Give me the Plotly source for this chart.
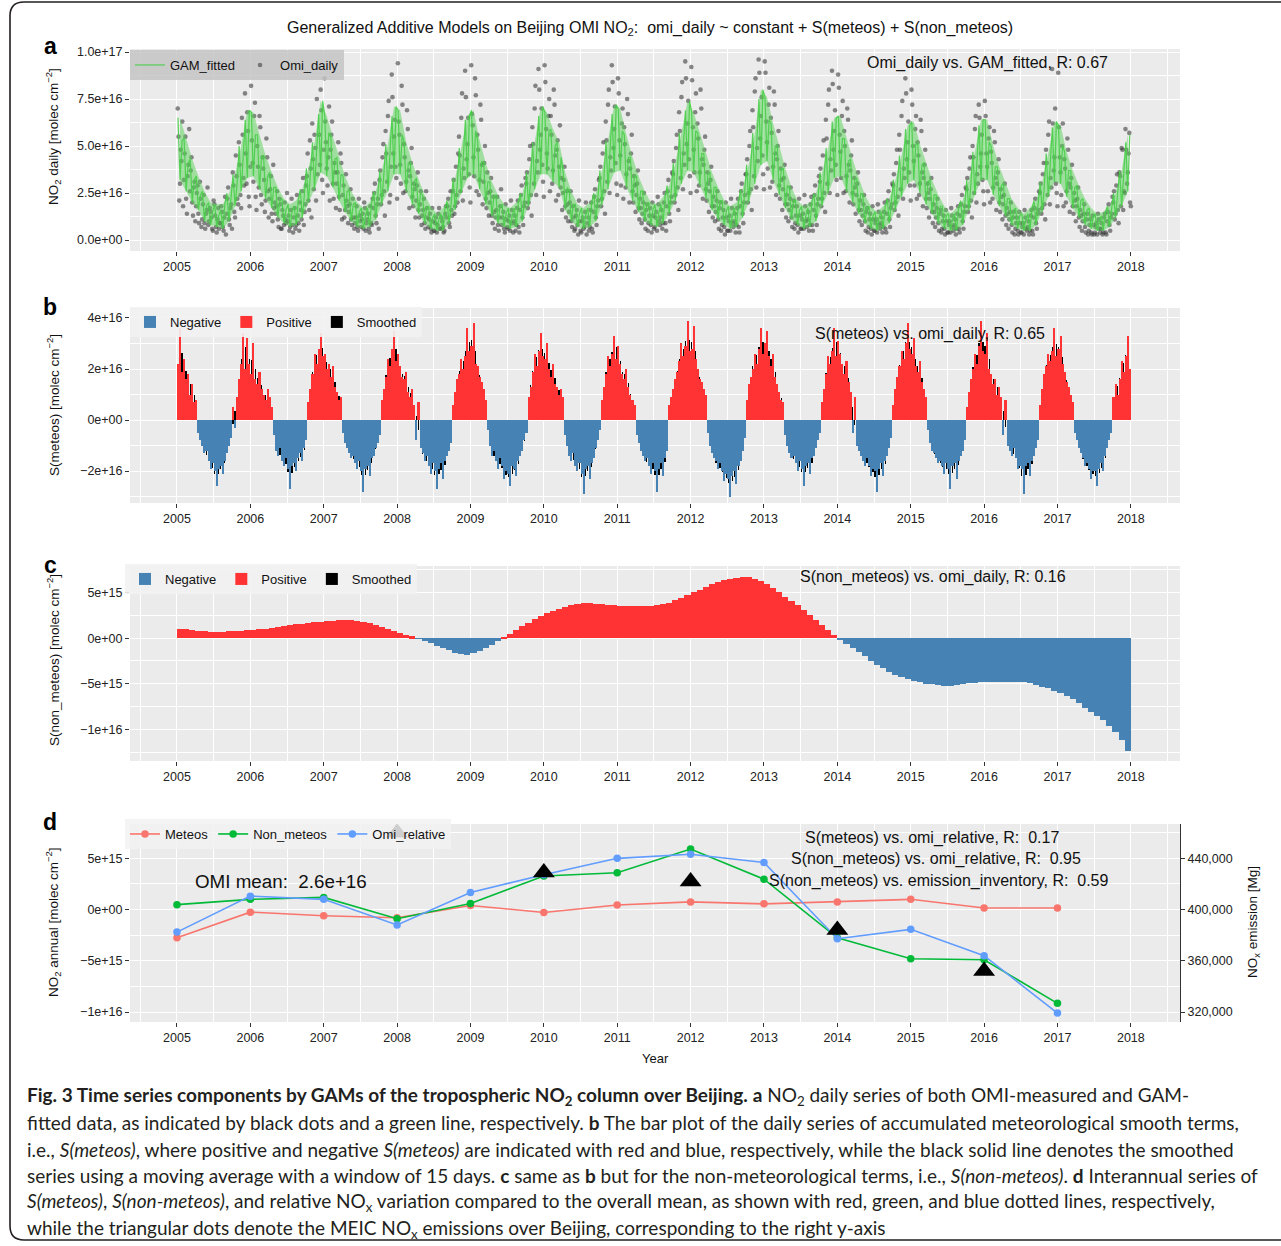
import numpy as np
import plotly.graph_objects as go

W, H = 1281, 1246
YEARS = list(range(2005, 2018))

# ---------------- Panel a : GAM fitted (3 readings / month, 1e16 molec cm-2)
gam_2005 = [6.5,3.2,5.3, 5.4,2.6,4.1, 4.3,2.0,3.2, 3.4,1.6,2.4, 2.6,1.0,1.8, 2.0,0.8,1.5, 1.9,0.7,1.3, 1.6,0.6,1.9, 2.5,1.0,2.2, 3.5,1.8,3.0, 5.0,2.6,4.4, 6.4,3.3,6.9]
gam_2006 = [6.8,3.4,5.6, 5.6,2.7,4.4, 4.5,2.2,3.4, 3.6,1.7,2.8, 2.8,1.2,2.1, 2.2,0.9,1.6, 1.9,0.7,1.5, 1.8,0.8,2.1, 2.7,1.2,2.4, 3.8,2.0,3.4, 5.2,2.7,4.8, 6.7,3.6,7.4]
gam_2007 = [6.6,3.4,5.7, 5.5,2.8,4.3, 4.4,2.1,3.5, 3.4,1.5,2.6, 2.6,1.0,1.9, 2.0,0.7,1.5, 1.7,0.6,1.3, 1.7,0.7,2.0, 2.6,1.1,2.3, 3.7,1.9,3.3, 5.1,2.6,4.6, 6.6,3.5,7.1]
gam_2008 = [6.9,3.5,5.6, 5.2,2.6,4.1, 4.1,1.9,3.1, 3.3,1.4,2.5, 2.4,0.9,1.7, 1.8,0.6,1.2, 1.4,0.5,1.1, 1.4,0.5,1.7, 2.1,0.9,1.9, 3.3,1.6,2.9, 4.9,2.5,4.4, 6.4,3.3,6.6]
gam_2009 = [6.9,3.5,5.8, 5.3,2.7,4.2, 4.1,1.9,3.1, 3.1,1.3,2.3, 2.4,0.9,1.8, 1.9,0.7,1.4, 1.7,0.6,1.3, 1.7,0.7,2.0, 2.5,1.0,2.2, 3.6,1.8,3.2, 5.2,2.7,4.7, 6.6,3.5,7.1]
gam_2010 = [6.8,3.5,5.8, 5.9,3.1,5.0, 5.2,2.8,4.4, 3.6,1.6,2.8, 2.6,1.0,1.9, 1.9,0.7,1.4, 1.7,0.6,1.3, 1.7,0.7,2.0, 2.5,1.0,2.2, 3.7,1.9,3.3, 5.3,2.7,4.8, 6.7,3.6,7.2]
gam_2011 = [7.0,3.7,5.8, 5.6,2.8,4.4, 4.4,2.1,3.4, 3.4,1.5,2.6, 2.6,1.0,1.9, 2.0,0.8,1.6, 1.9,0.7,1.5, 1.9,0.9,2.3, 2.9,1.4,2.6, 4.1,2.1,3.6, 5.7,3.0,5.1, 6.9,3.7,7.4]
gam_2012 = [6.8,3.6,5.8, 5.7,2.9,4.6, 4.6,2.2,3.5, 3.6,1.6,2.8, 2.8,1.1,2.1, 2.1,0.8,1.5, 1.8,0.6,1.3, 1.7,0.7,2.0, 2.7,1.2,2.5, 4.0,2.0,3.6, 5.7,3.0,5.2, 7.5,4.0,8.0]
gam_2013 = [7.6,4.2,6.4, 6.2,3.2,5.0, 5.0,2.4,3.8, 3.8,1.7,2.9, 2.8,1.1,2.1, 2.1,0.8,1.6, 1.8,0.6,1.3, 1.7,0.7,2.0, 2.5,1.0,2.2, 3.6,1.8,3.2, 4.9,2.5,4.4, 6.3,3.3,6.5]
gam_2014 = [6.6,3.4,5.4, 5.4,2.6,4.2, 4.3,2.0,3.2, 3.3,1.4,2.5, 2.4,0.9,1.7, 1.8,0.6,1.3, 1.5,0.5,1.2, 1.5,0.6,1.8, 2.2,0.9,2.0, 3.2,1.6,2.9, 4.5,2.3,4.0, 5.9,3.0,6.1]
gam_2015 = [6.3,3.2,5.1, 5.1,2.5,4.0, 4.1,1.9,3.1, 3.2,1.4,2.4, 2.4,0.9,1.8, 1.8,0.6,1.3, 1.4,0.5,1.1, 1.4,0.5,1.7, 2.1,0.8,1.9, 3.2,1.6,2.9, 4.7,2.4,4.2, 6.1,3.2,6.4]
gam_2016 = [6.4,3.2,5.2, 5.0,2.4,3.9, 3.9,1.8,2.9, 3.0,1.3,2.2, 2.2,0.8,1.6, 1.7,0.6,1.3, 1.4,0.5,1.1, 1.4,0.5,1.7, 2.1,0.8,1.9, 3.1,1.5,2.8, 4.6,2.3,4.1, 6.0,3.1,6.3]
gam_2017 = [6.1,3.0,5.0, 4.7,2.3,3.7, 3.7,1.7,2.8, 2.9,1.2,2.1, 2.2,0.8,1.6, 1.7,0.6,1.2, 1.4,0.5,1.0, 1.3,0.5,1.5, 1.8,0.7,1.6, 2.5,1.2,2.3, 3.7,1.8,3.4, 5.2,2.6,5.6]

# ---------------- Panel a : OMI daily samples (two sets of 4 readings / month, 1e16)
omi_2005 = [7.0,2.1,4.8,6.3, 3.2,5.5,1.4,4.0, 2.6,4.4,1.3,3.1, 1.8,2.9,0.9,2.2, 1.1,2.4,0.6,1.6, 0.8,1.7,1.2,0.5, 1.9,0.7,1.1,0.6, 0.9,1.5,0.5,2.3, 1.4,2.8,0.8,1.9, 3.6,1.5,4.5,2.2, 5.2,2.4,6.5,3.3, 7.8,3.0,5.8,1.8]
omi_2006 = [8.2,4.1,6.6,2.3, 5.0,2.8,6.0,1.9, 3.8,1.5,5.4,2.6, 2.2,3.4,1.0,1.7, 1.4,2.6,0.7,1.9, 0.6,1.3,2.0,0.9, 1.0,0.5,1.6,0.8, 1.2,0.6,2.4,0.9, 2.0,1.1,3.3,1.5, 2.9,4.6,1.6,3.8, 6.2,2.7,4.9,7.5, 9.2,4.0,6.9,2.5]
omi_2007 = [8.6,5.2,2.9,7.1, 4.8,6.3,2.2,3.6, 3.0,5.2,1.6,4.1, 2.4,1.2,3.5,1.8, 1.5,2.7,0.8,1.2, 0.9,1.8,0.5,1.3, 0.7,1.4,2.0,0.5, 1.1,0.6,1.8,0.8, 1.7,3.0,0.9,2.2, 3.2,1.9,4.4,2.6, 5.8,3.1,7.4,2.4, 8.8,4.6,6.4,3.3]
omi_2008 = [9.4,5.6,3.0,7.2, 5.1,2.6,6.9,3.7, 3.4,4.9,1.8,2.7, 2.1,3.6,1.2,2.6, 1.3,2.2,0.6,1.7, 0.7,1.4,0.4,1.0, 0.5,1.2,0.8,1.7, 0.6,1.0,0.4,1.4, 1.2,2.2,0.7,1.6, 2.6,1.4,3.9,2.0, 5.5,2.6,7.8,3.8, 9.0,4.3,6.5,2.8]
omi_2009 = [9.3,6.1,3.4,7.7, 5.6,2.4,7.2,4.0, 3.1,5.0,1.7,2.5, 2.0,3.3,0.9,1.5, 1.2,2.3,0.5,1.8, 0.8,1.5,0.4,1.1, 0.6,1.3,2.1,0.9, 1.0,0.5,1.7,0.7, 1.6,2.9,0.8,2.0, 3.0,1.7,4.3,2.4, 6.0,3.0,8.2,4.2, 9.1,4.8,7.0,3.1]
omi_2010 = [9.3,5.9,3.8,7.5, 6.6,3.0,8.0,4.5, 4.8,2.4,6.1,3.3, 2.5,3.9,1.2,1.9, 1.5,2.6,0.7,1.2, 0.6,1.6,0.3,1.0, 0.4,1.2,0.7,2.0, 0.9,0.5,1.6,0.6, 1.5,2.7,0.8,2.1, 3.3,1.8,4.6,2.6, 6.3,3.1,8.0,4.4, 9.3,4.9,7.1,3.0]
omi_2011 = [8.6,5.3,2.9,7.0, 6.0,2.8,7.5,4.2, 3.8,5.6,2.0,2.9, 2.4,3.7,1.1,1.7, 1.4,2.5,0.6,1.9, 0.9,1.7,0.4,1.3, 0.7,1.5,2.3,1.0, 1.2,0.6,2.0,0.9, 1.8,3.2,1.0,2.3, 3.5,2.0,4.9,2.8, 6.8,3.3,8.4,4.6, 9.5,5.1,7.4,3.4]
omi_2012 = [9.2,6.0,3.6,7.8, 6.2,2.9,8.0,4.3, 4.0,5.5,2.1,3.0, 2.6,3.9,1.2,1.8, 1.5,2.6,0.6,2.0, 0.8,1.6,0.3,1.2, 0.5,1.3,2.2,0.9, 1.0,0.4,1.7,0.7, 1.8,3.0,0.9,2.4, 3.5,2.0,5.0,2.7, 6.9,3.4,8.6,4.9, 9.6,5.4,7.6,3.5]
omi_2013 = [9.5,6.3,3.8,8.1, 6.5,3.1,7.9,4.6, 4.3,5.8,2.2,3.2, 2.7,4.0,1.2,1.9, 1.6,2.8,0.7,2.1, 0.9,1.8,0.4,1.3, 0.6,1.4,2.4,1.0, 1.1,0.5,1.9,0.8, 1.6,2.9,0.8,2.2, 3.1,1.8,4.5,2.5, 6.4,3.0,8.0,4.3, 9.0,4.8,6.9,3.2]
omi_2014 = [8.8,5.6,3.3,7.4, 5.8,2.6,7.0,4.0, 3.7,5.3,1.9,2.8, 2.4,3.6,1.0,1.6, 1.3,2.4,0.5,1.7, 0.7,1.4,0.3,1.1, 0.5,1.1,1.9,0.8, 0.9,0.4,1.5,0.6, 1.4,2.6,0.7,1.9, 2.9,1.6,4.1,2.3, 5.6,2.7,7.4,3.8, 8.6,4.3,6.3,2.9]
omi_2015 = [8.0,5.0,2.9,6.6, 5.2,2.4,6.4,3.6, 3.3,4.8,1.7,2.5, 2.2,3.3,0.9,1.5, 1.2,2.2,0.5,1.6, 0.6,1.3,0.3,1.0, 0.4,1.0,1.7,0.7, 0.8,0.3,1.4,0.6, 1.3,2.4,0.6,1.8, 2.7,1.5,3.8,2.1, 5.0,2.5,6.6,3.5, 7.2,3.9,5.6,2.6]
omi_2016 = [7.4,4.6,2.6,6.0, 4.7,2.2,5.8,3.3, 3.0,4.3,1.5,2.3, 1.9,3.0,0.8,1.4, 1.1,2.0,0.4,1.5, 0.6,1.2,0.3,0.9, 0.4,0.9,1.6,0.6, 0.7,0.3,1.3,0.5, 1.2,2.2,0.6,1.6, 2.5,1.4,3.5,1.9, 4.8,2.4,6.3,3.3, 9.1,3.7,7.0,2.5]
omi_2017 = [8.9,4.4,2.4,6.2, 4.3,2.0,5.4,3.0, 2.8,4.0,1.4,2.1, 1.8,2.8,0.7,1.3, 1.0,1.9,0.4,1.4, 0.5,1.1,0.3,0.8, 0.4,0.9,1.4,0.6, 0.6,0.3,1.2,0.4, 1.0,1.9,0.5,1.4, 2.0,1.1,2.9,1.6, 3.6,1.8,4.8,2.6, 5.9,3.0,4.6,2.0]

omi2_2005 = [5.5,3.0,4.2,1.8, 4.6,2.2,3.4,5.9, 3.7,2.0,2.8,1.0, 2.5,1.4,3.1,0.7, 1.9,0.9,1.4,2.8, 1.0,1.5,0.6,2.1, 1.3,0.4,1.7,0.9, 1.8,0.7,1.2,0.3, 2.2,1.1,1.7,0.6, 2.9,1.2,3.4,1.9, 4.0,1.7,5.6,2.9, 4.6,6.8,2.3,3.9]
omi2_2006 = [5.3,3.1,7.3,1.6, 3.9,6.6,2.4,4.4, 3.2,2.1,4.4,1.2, 2.7,1.4,4.0,2.0, 1.8,1.1,2.2,0.6, 1.6,0.8,1.1,2.5, 1.3,0.7,2.2,0.4, 1.7,0.8,1.3,0.5, 1.6,2.6,0.8,1.9, 3.4,2.1,5.3,1.2, 4.3,5.6,2.1,3.5, 5.6,8.0,3.2,4.8]
omi2_2007 = [6.3,3.8,4.4,2.1, 5.6,3.0,4.1,1.7, 3.6,2.3,4.6,1.1, 2.9,1.6,2.1,0.9, 1.9,1.1,2.2,0.6, 1.2,0.7,2.2,1.0, 1.1,0.6,1.7,0.9, 1.4,0.4,0.9,2.2, 2.5,1.3,1.9,0.6, 3.7,2.4,5.1,1.3, 4.6,6.6,2.0,3.9, 7.6,5.5,3.9,2.2]
omi2_2008 = [6.3,4.0,8.2,2.5, 4.4,3.1,5.9,1.7, 4.1,2.3,3.0,1.2, 2.9,1.6,1.9,0.8, 1.6,0.9,2.6,1.2, 1.1,0.6,1.7,0.5, 0.9,0.4,1.4,0.6, 1.2,0.7,0.5,1.8, 1.8,0.9,2.6,1.3, 3.2,1.8,2.4,4.6, 4.5,6.5,2.1,3.3, 7.6,5.1,3.5,2.0]
omi2_2009 = [6.7,4.4,8.6,2.6, 4.8,3.2,6.4,1.9, 4.1,2.2,3.6,1.3, 2.6,1.3,2.3,0.6, 1.6,0.8,1.2,2.7, 1.2,0.6,1.9,0.7, 1.0,0.5,1.6,0.4, 1.3,0.8,2.1,0.4, 2.4,1.2,1.8,3.3, 3.6,2.0,5.0,1.3, 5.1,7.0,2.4,3.6, 8.0,5.6,4.0,2.3]
omi2_2010 = [8.4,4.6,6.6,2.6, 5.6,3.7,7.2,2.1, 5.3,3.9,2.8,1.6, 3.2,1.8,2.6,1.0, 2.0,1.0,1.8,0.5, 1.3,0.8,2.1,0.5, 1.0,0.6,1.5,0.3, 1.2,0.7,2.0,0.4, 2.3,1.2,1.8,3.2, 3.9,2.2,5.2,1.4, 5.3,7.2,2.5,3.7, 8.4,5.9,4.1,2.4]
omi2_2011 = [7.8,4.5,6.2,2.2, 5.1,3.5,6.7,2.0, 4.6,2.6,3.4,1.5, 3.0,1.7,2.2,0.9, 2.0,1.1,1.6,0.5, 1.3,0.8,2.0,0.6, 1.2,0.5,1.9,0.8, 1.6,0.9,2.5,0.5, 2.6,1.4,2.0,3.6, 4.2,2.4,5.6,1.6, 5.8,7.6,2.7,4.0, 8.6,6.2,4.3,2.5]
omi2_2012 = [8.5,4.8,6.8,2.6, 5.4,3.6,7.0,2.2, 4.8,2.7,3.6,1.5, 3.2,1.8,2.3,1.0, 2.1,1.1,1.7,0.5, 1.2,0.7,2.0,0.5, 1.0,0.5,1.7,0.7, 1.4,0.8,2.2,0.4, 2.6,1.4,2.0,3.5, 4.3,2.5,5.8,1.6, 6.0,7.9,2.8,4.2, 8.9,6.6,4.5,2.7]
omi2_2013 = [8.9,5.2,7.2,2.8, 5.7,3.9,7.2,2.4, 5.0,2.9,3.8,1.6, 3.3,1.9,2.4,1.0, 2.2,1.2,1.8,0.6, 1.3,0.8,2.2,0.6, 1.1,0.6,1.8,0.7, 1.5,0.8,2.3,0.5, 2.4,1.3,1.9,3.4, 3.8,2.2,5.3,1.5, 5.4,7.2,2.5,3.7, 8.3,5.8,4.0,2.4]
omi2_2014 = [8.1,4.7,6.6,2.5, 5.0,3.4,6.4,2.0, 4.5,2.5,3.3,1.4, 3.0,1.6,2.1,0.8, 1.9,1.0,1.5,0.4, 1.1,0.6,1.8,0.5, 0.9,0.4,1.5,0.6, 1.2,0.7,2.0,0.4, 2.1,1.1,1.7,3.0, 3.5,2.0,4.8,1.3, 4.8,6.6,2.2,3.3, 7.8,5.2,3.6,2.1]
omi2_2015 = [7.2,4.2,5.9,2.2, 4.5,3.0,5.8,1.8, 4.0,2.2,3.0,1.2, 2.7,1.5,1.9,0.7, 1.7,0.9,1.4,0.4, 1.0,0.6,1.6,0.4, 0.8,0.4,1.3,0.5, 1.1,0.6,1.8,0.4, 1.9,1.0,1.5,2.8, 3.3,1.8,4.4,1.2, 4.4,5.9,2.0,3.0, 6.5,4.6,3.2,1.9]
omi2_2016 = [6.6,3.9,5.4,2.0, 4.1,2.8,5.2,1.6, 3.6,2.0,2.7,1.1, 2.4,1.3,1.7,0.6, 1.5,0.8,1.2,0.3, 0.9,0.5,1.5,0.4, 0.7,0.3,1.2,0.5, 1.0,0.5,1.6,0.3, 1.7,0.9,1.4,2.6, 3.0,1.7,4.1,1.1, 4.1,5.6,1.9,2.8, 6.2,4.4,3.0,1.8]
omi2_2017 = [6.0,3.6,5.0,1.8, 3.8,2.6,4.8,1.5, 3.3,1.8,2.5,1.0, 2.2,1.2,1.6,0.5, 1.4,0.7,1.1,0.3, 0.8,0.4,1.3,0.3, 0.7,0.3,1.1,0.4, 0.9,0.4,1.4,0.3, 1.5,0.8,1.2,2.3, 2.6,1.4,3.5,0.9, 3.4,4.9,1.6,2.5, 4.8,3.6,5.7,1.8]

# ---------------- Panel b : S(meteos) (3 readings / month, 1e16)
met_2005 = [2.2,3.6,1.9, 2.4,1.6,1.8, 1.0,1.4,0.7, 0.8,-0.5,-0.8, -1.0,-1.3,-1.2, -1.6,-1.9,-1.7, -2.0,-2.6,-1.9, -1.8,-2.1,-1.6, -1.3,-1.0,-0.7, 0.5,-0.3,0.9, 1.6,2.2,3.4, 2.0,3.2,2.2]
met_2006 = [1.8,3.0,1.6, 1.4,1.9,1.2, 1.0,0.8,1.2, 0.9,0.5,-0.6, -1.2,-1.4,-1.1, -1.6,-1.8,-1.5, -1.9,-2.7,-1.8, -1.7,-2.0,-1.5, -1.3,-1.6,-1.1, -0.8,0.7,1.2, 1.8,2.6,2.2, 2.8,3.4,2.5]
met_2007 = [2.6,2.0,2.2, 1.7,2.1,1.3, 1.1,0.8,0.9, -0.5,-0.9,-1.1, -1.3,-1.5,-1.4, -1.7,-1.9,-1.6, -2.0,-2.8,-1.9, -1.8,-2.2,-1.5, -1.4,-1.1,-0.9, -0.6,0.8,1.2, 1.7,2.4,2.1, 2.8,3.5,2.3]
met_2008 = [2.6,2.1,1.7, 1.6,1.9,1.1, 0.9,1.2,0.6, -0.8,0.7,-1.1, -1.3,-1.6,-1.4, -1.8,-2.1,-1.7, -2.0,-2.7,-1.9, -1.7,-2.3,-1.6, -1.4,-1.2,-0.9, 0.6,1.1,1.6, 1.8,2.4,2.0, 2.5,3.6,2.7]
met_2009 = [2.9,3.8,2.2, 2.1,1.7,1.5, 1.2,0.8,-0.4, -1.0,-1.4,-1.2, -1.6,-1.9,-1.5, -1.8,-2.3,-2.0, -2.1,-2.6,-1.8, -1.9,-2.2,-1.6, -1.4,-1.2,-0.8, -0.5,0.9,1.3, 1.9,2.6,2.1, 2.7,3.4,2.5]
met_2010 = [2.4,3.0,2.0, 1.7,2.2,1.4, 1.3,1.0,1.2, 0.9,-0.6,-1.0, -1.4,-1.6,-1.3, -1.8,-2.0,-1.7, -2.1,-2.9,-1.9, -1.8,-2.3,-1.7, -1.5,-1.1,-0.8, -0.4,0.8,1.3, 1.8,2.5,2.1, 2.6,3.3,2.4]
met_2011 = [2.9,2.2,1.8, 1.6,2.0,1.3, 1.0,0.8,0.6, -0.6,-0.9,-1.2, -1.4,-1.6,-1.5, -1.8,-2.1,-1.7, -2.0,-2.8,-1.9, -1.7,-2.2,-1.5, -1.2,0.6,0.9, 1.2,1.6,1.9, 2.3,3.0,2.5, 2.9,3.9,2.7]
met_2012 = [2.8,3.7,2.4, 2.0,1.6,1.5, 1.2,1.0,-0.5, -1.0,-1.3,-1.5, -1.6,-1.9,-1.7, -2.0,-2.4,-2.1, -2.3,-3.0,-2.2, -2.0,-2.5,-1.8, -1.6,-1.2,-0.7, 0.8,1.4,1.7, 2.0,2.6,2.2, 2.8,3.6,2.6]
met_2013 = [3.0,3.5,2.5, 2.1,2.6,1.7, 1.4,1.1,0.8, 0.7,-0.6,-1.0, -1.3,-1.5,-1.4, -1.7,-2.0,-1.6, -1.9,-2.6,-1.8, -1.7,-2.1,-1.5, -1.4,-1.1,-0.8, -0.5,0.7,1.2, 1.8,2.5,2.2, 2.7,3.6,2.5]
met_2014 = [3.1,2.6,2.2, 1.8,2.3,1.5, 1.1,-0.5,0.9, -1.0,-1.2,-1.4, -1.6,-1.8,-1.5, -1.8,-2.2,-1.9, -2.0,-2.8,-1.9, -1.7,-2.2,-1.6, -1.4,-1.1,-0.7, 0.6,1.2,1.7, 2.1,2.7,2.4, 3.0,3.8,2.8]
met_2015 = [2.6,3.2,2.1, 1.9,2.3,1.5, 1.2,0.9,-0.4, -0.9,-1.2,-1.3, -1.5,-1.7,-1.6, -1.8,-2.1,-1.7, -1.9,-2.7,-1.8, -1.7,-2.3,-1.6, -1.4,-1.2,-0.8, 0.5,1.1,1.6, 2.0,2.6,2.2, 2.9,3.9,2.7]
met_2016 = [2.6,3.4,2.0, 1.8,1.4,1.6, 1.0,1.3,0.9, -0.6,0.8,-1.0, -1.2,-1.4,-1.1, -1.5,-1.9,-1.8, -1.9,-2.9,-1.8, -1.7,-2.2,-1.6, -1.4,-1.1,-0.8, 0.6,1.2,1.8, 2.1,2.6,2.3, 2.7,3.6,2.5]
met_2017 = [2.8,3.3,2.2, 1.9,1.5,1.3, 1.0,0.7,-0.5, -0.8,-1.1,-1.3, -1.5,-1.8,-1.7, -1.9,-2.3,-2.0, -2.0,-2.6,-1.9, -1.7,-2.0,-1.4, -1.1,-0.8,-0.5, 0.9,1.4,1.0, 1.6,2.3,1.9, 2.5,3.3,2.0]

# ---------------- Panel c : S(non_meteos) (monthly, 1e15)
nonmet_2005 = [1.0,0.95,0.85,0.8,0.75,0.7,0.7,0.7,0.75,0.75,0.8,0.85]
nonmet_2006 = [0.9,0.95,1.0,1.1,1.2,1.3,1.4,1.5,1.6,1.7,1.75,1.8]
nonmet_2007 = [1.85,1.9,1.95,1.95,1.95,1.9,1.8,1.65,1.45,1.25,1.0,0.8]
nonmet_2008 = [0.6,0.4,0.2,-0.05,-0.3,-0.55,-0.85,-1.1,-1.35,-1.6,-1.75,-1.8]
nonmet_2009 = [-1.65,-1.4,-1.1,-0.7,-0.3,0.1,0.5,0.9,1.3,1.7,2.05,2.4]
nonmet_2010 = [2.7,2.95,3.2,3.45,3.6,3.75,3.8,3.8,3.75,3.7,3.65,3.6]
nonmet_2011 = [3.55,3.55,3.55,3.55,3.55,3.55,3.6,3.7,3.9,4.15,4.4,4.7]
nonmet_2012 = [5.0,5.3,5.6,5.9,6.15,6.35,6.5,6.6,6.7,6.65,6.5,6.25]
nonmet_2013 = [5.9,5.5,5.05,4.55,4.05,3.6,3.1,2.55,2.0,1.4,0.85,0.3]
nonmet_2014 = [-0.2,-0.65,-1.1,-1.5,-2.0,-2.5,-2.9,-3.3,-3.7,-4.0,-4.25,-4.5]
nonmet_2015 = [-4.7,-4.85,-5.0,-5.05,-5.1,-5.2,-5.2,-5.15,-5.05,-4.95,-4.9,-4.85]
nonmet_2016 = [-4.8,-4.75,-4.75,-4.75,-4.75,-4.8,-4.85,-4.95,-5.1,-5.3,-5.5,-5.75]
nonmet_2017 = [-6.0,-6.3,-6.7,-7.1,-7.6,-8.1,-8.5,-9.0,-9.6,-10.3,-11.2,-12.3]

# ---------------- Panel d : annual series (1e15) and MEIC emissions (Mg)
annual_years = [2005,2006,2007,2008,2009,2010,2011,2012,2013,2014,2015,2016,2017]
meteos_annual     = [-2.75,-0.25,-0.6,-0.8,0.4,-0.28,0.45,0.75,0.56,0.75,1.0,0.16,0.16]
non_meteos_annual = [0.48,1.0,1.19,-0.9,0.6,3.27,3.6,5.9,2.97,-2.75,-4.8,-4.9,-9.15]
omi_rel_annual    = [-2.2,1.31,1.0,-1.5,1.67,3.4,5.0,5.4,4.6,-2.85,-1.93,-4.5,-10.1]
meic_years = [2008,2010,2012,2014,2016]
meic_nox   = [460000,429000,422000,384000,352000]

TICK_YEARS = list(range(2005, 2019))

# ------------------------------------------------------------------ helpers
def px(x):
    return x / W

def py(y):
    return 1 - y / H

def month_times(per_month, shift=0.0):
    t = []
    for yr in YEARS:
        for m in range(12):
            for k in range(per_month):
                t.append(yr + (m + (k + 0.5 + shift) / per_month) / 12.0)
    return np.array(t)

def cat(*arrs):
    return np.concatenate([np.asarray(a, dtype=float) for a in arrs])

gam = cat(gam_2005, gam_2006, gam_2007, gam_2008, gam_2009, gam_2010, gam_2011,
          gam_2012, gam_2013, gam_2014, gam_2015, gam_2016, gam_2017) * 1e16
omi = cat(omi_2005, omi_2006, omi_2007, omi_2008, omi_2009, omi_2010, omi_2011,
          omi_2012, omi_2013, omi_2014, omi_2015, omi_2016, omi_2017) * 1e16
omi2 = cat(omi2_2005, omi2_2006, omi2_2007, omi2_2008, omi2_2009, omi2_2010, omi2_2011,
           omi2_2012, omi2_2013, omi2_2014, omi2_2015, omi2_2016, omi2_2017) * 1e16
met = cat(met_2005, met_2006, met_2007, met_2008, met_2009, met_2010, met_2011,
          met_2012, met_2013, met_2014, met_2015, met_2016, met_2017) * 1e16
nonmet = cat(nonmet_2005, nonmet_2006, nonmet_2007, nonmet_2008, nonmet_2009,
             nonmet_2010, nonmet_2011, nonmet_2012, nonmet_2013, nonmet_2014,
             nonmet_2015, nonmet_2016, nonmet_2017) * 1e15

t_gam = month_times(3)
t_omi = np.concatenate([month_times(4), month_times(4, 0.5)])
omi_all = np.concatenate([omi, omi2])
t_met = month_times(3)
t_non = month_times(1)
met_smooth = np.convolve(met, np.ones(3) / 3.0, mode="same")

# monthly spread of the GAM readings (band under the line)
gam_m = gam.reshape(-1, 3)
t_month = month_times(1)
band_x = np.concatenate([t_month, t_month[::-1]])
band_y = np.concatenate([gam_m.max(axis=1), gam_m.min(axis=1)[::-1]])

RED = "#FF3333"
BLUE = "#4682B4"
GREEN = "rgba(72,206,72,0.9)"
FONT = "Liberation Sans, Arial, Helvetica, sans-serif"

fig = go.Figure()

# ---- panel a
fig.add_trace(go.Scatter(x=t_omi, y=omi_all, mode="markers", name="Omi_daily",
                         marker=dict(size=4.6, color="rgba(60,60,60,0.6)"),
                         xaxis="x", yaxis="y", legend="legend", legendrank=2))
fig.add_trace(go.Scatter(x=band_x, y=band_y, mode="lines", fill="toself",
                         fillcolor="rgba(84,210,84,0.5)", line=dict(width=0),
                         showlegend=False, hoverinfo="skip", xaxis="x", yaxis="y"))
fig.add_trace(go.Scatter(x=t_gam, y=gam, mode="lines", name="GAM_fitted",
                         line=dict(color=GREEN, width=1.2),
                         xaxis="x", yaxis="y", legend="legend", legendrank=1))

# ---- panel b
fig.add_trace(go.Bar(x=t_met, y=met_smooth, width=1 / 250.0, name="Smoothed",
                     marker=dict(color="black", line=dict(width=0)),
                     xaxis="x2", yaxis="y2", legend="legend2", legendrank=3))
fig.add_trace(go.Bar(x=t_met, y=np.where(met < 0, met, np.nan), width=1 / 36.0, name="Negative",
                     marker=dict(color=BLUE, line=dict(width=0)),
                     xaxis="x2", yaxis="y2", legend="legend2", legendrank=1))
fig.add_trace(go.Bar(x=t_met, y=np.where(met > 0, met, np.nan), width=1 / 36.0, name="Positive",
                     marker=dict(color=RED, line=dict(width=0)),
                     xaxis="x2", yaxis="y2", legend="legend2", legendrank=2))

# ---- panel c
fig.add_trace(go.Bar(x=t_non, y=nonmet, width=1 / 40.0, name="Smoothed",
                     marker=dict(color="black", line=dict(width=0)),
                     xaxis="x3", yaxis="y3", legend="legend3", legendrank=3))
fig.add_trace(go.Bar(x=t_non, y=np.where(nonmet < 0, nonmet, np.nan), width=1 / 12.0, name="Negative",
                     marker=dict(color=BLUE, line=dict(width=0)),
                     xaxis="x3", yaxis="y3", legend="legend3", legendrank=1))
fig.add_trace(go.Bar(x=t_non, y=np.where(nonmet > 0, nonmet, np.nan), width=1 / 12.0, name="Positive",
                     marker=dict(color=RED, line=dict(width=0)),
                     xaxis="x3", yaxis="y3", legend="legend3", legendrank=2))

# ---- panel d
for name, vals, col in [("Meteos", meteos_annual, "#F8766D"),
                        ("Non_meteos", non_meteos_annual, "#00BA38"),
                        ("Omi_relative", omi_rel_annual, "#619CFF")]:
    fig.add_trace(go.Scatter(x=annual_years, y=np.array(vals) * 1e15, mode="lines+markers", name=name,
                             line=dict(color=col, width=1.6), marker=dict(color=col, size=7.5),
                             xaxis="x4", yaxis="y4", legend="legend4"))
fig.add_trace(go.Scatter(x=meic_years, y=meic_nox, mode="markers", name="MEIC",
                         marker=dict(symbol="triangle-up", size=19, color="black"),
                         showlegend=False, xaxis="x4", yaxis="y5"))

# ------------------------------------------------------------------ axes
XDOM = [px(130), px(1180)]
tickfont = dict(family=FONT, size=12.5, color="#222")

def xaxis(anchor):
    return dict(domain=XDOM, anchor=anchor, range=[2004.36, 2018.67],
                tickmode="array", tickvals=TICK_YEARS, ticktext=[str(v) for v in TICK_YEARS],
                ticks="outside", ticklen=4, tickwidth=1, tickcolor="#333",
                showgrid=True, gridcolor="white", gridwidth=1.2,
                minor=dict(tickmode="linear", tick0=2004.5, dtick=1, showgrid=True,
                           gridcolor="white", gridwidth=0.5),
                zeroline=False, showline=False, tickfont=tickfont, automargin=False)

def yaxis(anchor, dom, rng, vals, texts, mtick0, mdtick):
    return dict(domain=dom, anchor=anchor, range=rng, tickmode="array", tickvals=vals,
                ticktext=texts, ticks="outside", ticklen=4, tickwidth=1, tickcolor="#333",
                showgrid=True, gridcolor="white", gridwidth=1.2,
                minor=dict(tickmode="linear", tick0=mtick0, dtick=mdtick, showgrid=True,
                           gridcolor="white", gridwidth=0.5),
                zeroline=False, showline=False, tickfont=tickfont, automargin=False)

fig.update_layout(
    xaxis=xaxis("y"), xaxis2=xaxis("y2"), xaxis3=xaxis("y3"), xaxis4=xaxis("y4"),
    yaxis=yaxis("x", [py(251), py(49)], [-0.58e16, 1.016e17],
                [0, 2.5e16, 5e16, 7.5e16, 1e17],
                ["0.0e+00", "2.5e+16", "5.0e+16", "7.5e+16", "1.0e+17"], 1.25e16, 2.5e16),
    yaxis2=yaxis("x2", [py(503), py(308)], [-3.25e16, 4.39e16],
                 [-2e16, 0, 2e16, 4e16], ["\u22122e+16", "0e+00", "2e+16", "4e+16"], 1e16, 2e16),
    yaxis3=yaxis("x3", [py(761), py(566)], [-13.45e15, 7.9e15],
                 [-1e16, -5e15, 0, 5e15], ["\u22121e+16", "\u22125e+15", "0e+00", "5e+15"], 2.5e15, 5e15),
    yaxis4=yaxis("x4", [py(1022), py(824)], [-10.97e15, 8.35e15],
                 [-1e16, -5e15, 0, 5e15], ["\u22121e+16", "\u22125e+15", "0e+00", "5e+15"], 2.5e15, 5e15),
    yaxis5=dict(overlaying="y4", anchor="x4", side="right", range=[312240, 466800],
                tickmode="array", tickvals=[320000, 360000, 400000, 440000],
                ticktext=["320,000", "360,000", "400,000", "440,000"],
                ticks="outside", ticklen=4, tickwidth=1, tickcolor="#333",
                showgrid=False, zeroline=False, showline=True, linecolor="#333", linewidth=1,
                tickfont=tickfont, automargin=False),
)

leg_common = dict(orientation="h", xanchor="left", yanchor="top",
                  font=dict(family=FONT, size=13, color="#111"), borderwidth=0,
                  itemclick=False, itemdoubleclick=False)
fig.update_layout(
    legend=dict(x=px(130), y=py(50), bgcolor="rgba(196,196,196,0.85)", **leg_common),
    legend2=dict(x=px(130), y=py(307), bgcolor="rgba(242,242,242,0.9)", **leg_common),
    legend3=dict(x=px(125), y=py(564), bgcolor="rgba(242,242,242,0.9)", **leg_common),
    legend4=dict(x=px(125), y=py(819), bgcolor="rgba(242,242,242,0.85)", **leg_common),
)

# ------------------------------------------------------------------ texts
ann = []
def text(x, y, s, size=14, **kw):
    d = dict(x=px(x), y=py(y), xref="paper", yref="paper", text=s, showarrow=False,
             font=dict(family=kw.pop("family", FONT), size=size, color=kw.pop("color", "#111")),
             xanchor=kw.pop("xanchor", "center"), yanchor=kw.pop("yanchor", "middle"))
    d.update(kw)
    ann.append(d)

text(650, 28, "Generalized Additive Models on Beijing OMI NO<sub>2</sub>:  omi_daily ~ constant + S(meteos) + S(non_meteos)", 16)
for letter, yy in [("a", 46), ("b", 307), ("c", 565), ("d", 822)]:
    text(50, yy, "<b>" + letter + "</b>", 23, color="black")
text(987, 63, "Omi_daily vs. GAM_fitted, R: 0.67", 16)
text(930, 334, "S(meteos) vs. omi_daily, R: 0.65", 16)
text(933, 577, "S(non_meteos) vs. omi_daily, R: 0.16", 16)
text(932, 838, "S(meteos) vs. omi_relative, R:  0.17", 16)
text(936, 859, "S(non_meteos) vs. omi_relative, R:  0.95", 16)
text(939, 881, "S(non_meteos) vs. emission_inventory, R:  0.59", 16)
text(281, 881, "OMI mean:  2.6e+16", 18.8)
# axis titles
text(53, 137, "NO<sub>2</sub> daily [molec cm<sup>\u22122</sup>]", 13.5, textangle=-90)
text(53, 405, "S(meteos) [molec cm<sup>\u22122</sup>]", 13.5, textangle=-90)
text(53, 660, "S(non_meteos) [molec cm<sup>\u22122</sup>]", 13.5, textangle=-90)
text(53, 922, "NO<sub>2</sub> annual [molec cm<sup>\u22122</sup>]", 13.5, textangle=-90)
text(1253, 922, "NO<sub>x</sub> emission [Mg]", 13.5, textangle=-90)
text(655, 1058, "Year", 13)

# caption
CAP = "Lato, Open Sans, sans-serif"
cap_lines = [
    "<b>Fig. 3 Time series components by GAMs of the tropospheric NO<sub>2</sub> column over Beijing.</b> <b>a</b> NO<sub>2</sub> daily series of both OMI-measured and GAM-",
    "fitted data, as indicated by black dots and a green line, respectively. <b>b</b> The bar plot of the daily series of accumulated meteorological smooth terms,",
    "i.e., <i>S(meteos)</i>, where positive and negative <i>S(meteos)</i> are indicated with red and blue, respectively, while the black solid line denotes the smoothed",
    "series using a moving average with a window of 15 days. <b>c</b> same as <b>b</b> but for the non-meteorological terms, i.e., <i>S(non-meteos)</i>. <b>d</b> Interannual series of",
    "<i>S(meteos)</i>, <i>S(non-meteos)</i>, and relative NO<sub>x</sub> variation compared to the overall mean, as shown with red, green, and blue dotted lines, respectively,",
    "while the triangular dots denote the MEIC NO<sub>x</sub> emissions over Beijing, corresponding to the right y-axis",
]
for i, s in enumerate(cap_lines):
    text(25, 1096 + 26.6 * i, s, 19, family=CAP, color="#231F20", xanchor="left")

fig.update_layout(annotations=ann)

# border (rounded frame)
x0, x1 = px(10), 1.05
yT, yB = py(2), py(1240)
rx, ry = 14 / W, 14 / H
path = (f"M {x1},{yT} L {x0 + rx},{yT} Q {x0},{yT} {x0},{yT - ry} "
        f"L {x0},{yB + ry} Q {x0},{yB} {x0 + rx},{yB} L {x1},{yB}")
fig.add_shape(type="path", path=path, xref="paper", yref="paper",
              line=dict(color="#231F20", width=1.6), layer="above")

fig.update_layout(
    width=W, height=H, margin=dict(l=0, r=0, t=0, b=0),
    paper_bgcolor="white", plot_bgcolor="#EBEBEB",
    barmode="overlay", bargap=0, showlegend=True,
    font=dict(family=FONT, size=12.5, color="#111"),
)

fig.write_html("out.html", include_plotlyjs=True, config={"displayModeBar": False},
               post_script="document.body.style.margin='0';document.body.style.overflow='hidden';")
